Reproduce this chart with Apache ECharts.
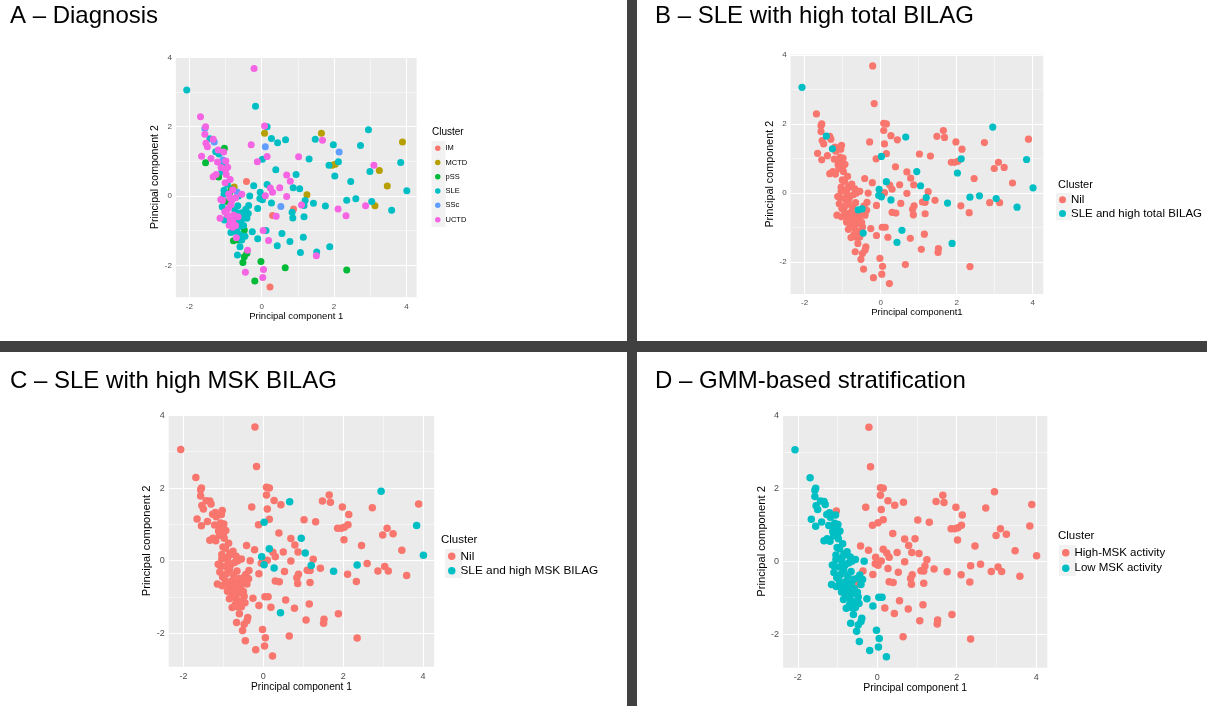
<!DOCTYPE html>
<html><head><meta charset="utf-8">
<script src="https://cdn.jsdelivr.net/npm/echarts@6/dist/echarts.min.js"></script>
<style>html,body{margin:0;padding:0;background:#fff}#c{width:1207px;height:706px}</style>
</head><body><div id="c"></div>
<script>
// ---- data (same PCA points in every panel) ----
const pc1 = [-2.07,-0.21,-0.17,-1.69,-1.55,-1.57,-1.57,-1.54,-1.50,-1.43,-1.34,-1.31,-1.66,-1.55,-1.40,-1.27,-1.18,-1.20,-1.03,-1.05,
 -1.22,-1.09,-1.07,-0.99,-0.94,-1.00,-1.34,-1.19,-1.26,-1.12,-0.87,-1.01,-0.95,-1.04,-0.76,-0.84,-0.68,-1.04,-0.91,-0.89,
 -1.08,-0.95,-0.82,-0.64,-0.72,-1.09,-0.92,-1.02,-0.74,-0.66,-0.44,-1.15,-1.03,-0.87,-0.80,-0.90,-0.67,-0.49,-0.41,-0.37,
 -0.80,-0.69,-0.60,-0.48,-0.55,-0.78,-0.65,-0.55,-0.46,-0.26,-0.60,-0.67,-0.41,-0.48,-0.52,-0.39,-0.45,-0.19,-0.02,0.05,
 0.03,0.23,0.65,-0.85,-0.78,-0.59,-0.65,-0.58,-0.72,-0.95,-0.88,-0.80,-0.98,-1.10,-0.62,-0.50,-0.70,-0.85,-1.13,-0.55,
 -0.42,-0.29,-0.22,-0.33,-0.36,-0.12,0.02,0.08,0.15,0.08,0.10,0.15,0.27,0.44,0.66,0.39,0.15,-0.04,-0.05,0.10,
 0.24,0.30,0.27,0.02,0.50,0.53,0.30,0.40,0.69,0.79,0.69,0.87,0.95,1.05,0.88,0.84,0.86,1.02,1.31,1.10,
 1.20,1.17,1.25,1.43,1.76,1.48,1.68,1.65,1.52,1.51,1.88,1.07,1.15,0.78,0.56,0.43,0.12,0.04,-0.11,0.19,
 1.86,1.95,2.03,2.12,1.98,2.14,2.02,2.46,2.73,2.95,2.35,2.60,2.33,2.11,2.35,2.99,3.10,3.25,2.87,3.04,
 3.13,3.47,3.59,3.84,3.89,4.01,-0.11,-0.52,1.17];
const pc2 = [3.06,3.68,2.59,2.29,2.00,1.95,1.78,1.52,1.42,1.65,1.64,1.56,1.15,0.96,1.08,1.28,1.21,1.33,1.38,1.27,
 0.98,0.92,1.04,1.01,0.83,0.75,0.56,0.55,0.62,0.82,0.48,0.38,0.34,0.17,0.26,0.20,0.12,0.05,0.06,0.09,
 -0.13,-0.16,-0.12,0.00,-0.05,-0.31,-0.36,-0.45,-0.40,-0.28,-0.38,-0.64,-0.69,-0.69,-0.72,-0.84,-0.69,-0.46,-0.64,-0.50,
 -0.90,-1.03,-0.88,-0.98,-1.15,-1.29,-1.27,-1.27,-1.16,-1.03,-1.46,-1.70,-1.65,-1.75,-1.92,-1.56,-2.20,-2.45,-1.89,-2.12,
 -2.35,-2.62,-2.07,-0.25,-0.55,-0.49,-0.60,-0.75,-0.85,-0.55,-0.05,0.18,0.62,0.70,-1.10,-0.85,-1.20,-1.05,-0.10,0.05,
 0.42,1.48,0.30,0.00,-0.27,0.99,1.06,2.02,2.00,1.81,1.42,1.14,1.66,1.54,1.62,0.76,0.33,0.11,-0.07,0.01,
 0.23,0.11,-0.20,-0.11,0.24,-0.30,-0.56,-0.58,0.61,0.43,-0.01,0.24,0.62,0.21,-0.37,-0.47,-0.63,1.13,1.07,-0.26,
 -0.13,-0.60,0.04,-0.21,-0.29,1.64,1.61,1.81,-1.61,-1.72,-1.46,-1.63,-1.19,-1.31,-1.08,-1.43,-0.99,-0.99,-1.23,-1.28,
 0.89,0.89,0.92,0.99,1.48,1.27,0.58,0.42,1.46,1.91,-0.12,-0.08,-0.57,-0.37,-2.13,0.71,0.89,0.74,-0.28,-0.16,
 -0.28,0.29,-0.41,0.97,1.56,0.15,-0.36,-0.64,-0.27];
const diagnosis = ['SLE','UCTD','SLE','UCTD','UCTD','SSc','UCTD','UCTD','UCTD','SLE','UCTD','SSc','UCTD','pSS','UCTD','SLE','SLE','UCTD','pSS','UCTD',
 'UCTD','SLE','SSc','UCTD','UCTD','UCTD','UCTD','pSS','UCTD','UCTD','UCTD','UCTD','SLE','SLE','MCTD','pSS','SSc','SLE','UCTD','pSS',
 'UCTD','pSS','UCTD','SLE','UCTD','SLE','UCTD','UCTD','SLE','SLE','SLE','UCTD','SLE','UCTD','UCTD','UCTD','SLE','SLE','SLE','SLE',
 'UCTD','SLE','SLE','pSS','SLE','pSS','pSS','SLE','SLE','SLE','SLE','SLE','pSS','pSS','pSS','UCTD','UCTD','pSS','pSS','UCTD',
 'UCTD','IM','pSS','UCTD','UCTD','SLE','UCTD','SLE','UCTD','UCTD','UCTD','UCTD','UCTD','SLE','SLE','SLE','UCTD','SLE','UCTD','UCTD',
 'IM','UCTD','SLE','SLE','SLE','UCTD','SLE','UCTD','SLE','MCTD','SSc','UCTD','SLE','SLE','SLE','SLE','SLE','SLE','SLE','UCTD',
 'UCTD','UCTD','SLE','SLE','UCTD','SSc','IM','UCTD','UCTD','UCTD','UCTD','SLE','SLE','SLE','IM','SLE','SLE','UCTD','SLE','UCTD',
 'SLE','SLE','MCTD','SLE','SLE','SLE','UCTD','MCTD','SLE','UCTD','SLE','SLE','SLE','SLE','SLE','SLE','SLE','UCTD','SLE','UCTD',
 'SLE','MCTD','MCTD','SLE','SLE','SSc','SLE','SLE','SLE','SLE','SLE','SLE','UCTD','UCTD','pSS','SLE','UCTD','MCTD','UCTD','SLE',
 'MCTD','MCTD','SLE','SLE','MCTD','SLE','SLE','SLE','SLE'];
const diagLevels = ['IM','MCTD','pSS','SLE','SSc','UCTD'];
// point numbers (1-based) flagged in panels B, C, D
const highTotalBilagPts = [1,10,16,58,69,86,107,115,117,118,119,123,124,133,134,141,145,151,155,156,164,167,170,171,172,180,183,184,186];
const highMskBilagPts = [107,115,117,118,123,124,133,134,141,145,156,170,171,184,186];
const lowMskGmmPts = [1,4,5,6,7,8,9,10,11,12,13,14,15,16,17,18,20,21,22,23,24,25,26,27,28,29,30,31,32,33,34,35,36,37,38,39,40,
 41,42,43,44,45,46,47,48,49,50,51,52,53,54,55,56,57,58,59,60,61,62,63,64,65,66,67,68,69,70,71,72,73,74,75,76,77,78,79,80,81,82,
 84,85,86,87,88,89,90,91,92,93,94,95,96,97,98,99,100,104,157,158,159];
const tickValues = [-2,0,2,4];
const minorValues = [-1,1,3];
const panelTitles = ['A \u2013 Diagnosis','B \u2013 SLE with high total BILAG','C \u2013 SLE with high MSK BILAG','D \u2013 GMM-based stratification'];

// ---- styling ----
const RED = '#F8766D', TEAL = '#00BFC4';
const diagColors = {IM:'#F8766D', MCTD:'#B79F00', pSS:'#00BA38', SLE:'#00BFC4', SSc:'#619CFF', UCTD:'#F564E3'};
const FONT = '"Liberation Sans", Arial, sans-serif';
const XMIN = -2.37, XMAX = 4.28, YMIN = -2.92, YMAX = 4.01;

const panels = [
  {grid:{left:175.9, top:57.0, width:240.7, height:240.3}, sym:7, tick:8, xNameFs:9.5, yNameFs:10.5, xName:'Principal component 1', xGap:13, yGap:11},
  {grid:{left:790.6, top:54.5, width:252.7, height:239.4}, sym:7.2, tick:8, xNameFs:9.5, yNameFs:10.8, xName:'Principal component1', xGap:13, yGap:12},
  {grid:{left:168.7, top:415.0, width:265.5, height:251.8}, sym:7.5, tick:9, xNameFs:10.2, yNameFs:11.2, xName:'Principal component 1', xGap:13, yGap:12},
  {grid:{left:783.1, top:415.1, width:264.2, height:252.6}, sym:7.5, tick:9, xNameFs:10.5, yNameFs:11.2, xName:'Principal component 1', xGap:13, yGap:12}
];

function pts(filterFn){
  const out = [];
  for (let i = 0; i < pc1.length; i++) if (filterFn(i)) out.push([pc1[i], pc2[i]]);
  return out;
}
const inSet = (list) => { const s = new Set(list.map(n => n - 1)); return i => s.has(i); };

const grids = [], xAxes = [], yAxes = [], series = [];
panels.forEach((p, g) => {
  grids.push(Object.assign({show:true, backgroundColor:'#EBEBEB', borderWidth:0}, p.grid));
  const axisCommon = {
    axisLine:{show:false},
    axisTick:{show:true, length:3, lineStyle:{color:'#333333', width:1}, customValues:tickValues},
    axisLabel:{customValues:tickValues, color:'#4D4D4D', fontSize:p.tick, fontFamily:FONT, margin:5},
    splitLine:{show:false},
    nameLocation:'middle'
  };
  xAxes.push(Object.assign({}, axisCommon, {type:'value', gridIndex:g, min:XMIN, max:XMAX, name:p.xName, nameGap:p.xGap,
    nameTextStyle:{color:'#000', fontSize:p.xNameFs, fontFamily:FONT}}));
  yAxes.push(Object.assign({}, axisCommon, {type:'value', gridIndex:g, min:YMIN, max:YMAX, name:'Principal component 2', nameGap:p.yGap,
    nameTextStyle:{color:'#000', fontSize:p.yNameFs, fontFamily:FONT},
    axisLabel:Object.assign({}, axisCommon.axisLabel, {margin:4})}));
  // panel grid lines (major + minor), drawn through the axes
  const ml = [];
  tickValues.forEach(v => { ml.push({xAxis:v, lineStyle:{width:1.1}}); ml.push({yAxis:v, lineStyle:{width:1.1}}); });
  minorValues.forEach(v => { ml.push({xAxis:v, lineStyle:{width:0.5}}); ml.push({yAxis:v, lineStyle:{width:0.5}}); });
  series.push({type:'line', xAxisIndex:g, yAxisIndex:g, data:[], z:1, silent:true,
    markLine:{z:1, silent:true, symbol:['none','none'], label:{show:false}, lineStyle:{color:'#FFFFFF', type:'solid'},
      emphasis:{disabled:true}, animation:false, data:ml}});
});

function scatter(g, name, color, data){
  return {type:'scatter', name, xAxisIndex:g, yAxisIndex:g, data, symbolSize:panels[g].sym, z:3,
    itemStyle:{color, opacity:1}, emphasis:{disabled:true}, animation:false};
}
// A
diagLevels.forEach(lv => series.push(scatter(0, lv, diagColors[lv], pts(i => diagnosis[i] === lv))));
// B
const isB = inSet(highTotalBilagPts);
series.push(scatter(1, 'Nil', RED, pts(i => !isB(i))));
series.push(scatter(1, 'SLE and high total BILAG', TEAL, pts(isB)));
// C
const isC = inSet(highMskBilagPts);
series.push(scatter(2, 'Nil', RED, pts(i => !isC(i))));
series.push(scatter(2, 'SLE and high MSK BILAG', TEAL, pts(isC)));
// D
const isD = inSet(lowMskGmmPts);
series.push(scatter(3, 'High-MSK activity', RED, pts(i => !isD(i))));
series.push(scatter(3, 'Low MSK activity', TEAL, pts(isD)));

function legend(data, left, top, fontSize, rowH, icon){
  return {data, orient:'vertical', left, top, icon:'circle', itemWidth:icon, itemHeight:icon, itemGap:0,
    selectedMode:false, textStyle:{fontSize, fontFamily:FONT, color:'#000', lineHeight:rowH, padding:[0,0,0,0]},
    padding:0, animation:false};
}

const titles = [
  {text:panelTitles[0], left:10, top:4},
  {text:panelTitles[1], left:655, top:4},
  {text:panelTitles[2], left:10, top:369},
  {text:panelTitles[3], left:655, top:369}
].map(t => Object.assign(t, {padding:0, textStyle:{fontSize:24, fontWeight:'normal', color:'#000', fontFamily:FONT}}));
const clusterLabels = [
  {left:432, top:127, fs:10}, {left:1058, top:179, fs:11}, {left:441, top:534, fs:11.5}, {left:1058, top:530, fs:11.5}
].map(c => ({text:'Cluster', left:c.left, top:c.top, padding:0, textStyle:{fontSize:c.fs, fontWeight:'normal', color:'#000', fontFamily:FONT}}));

const option = {
  animation:false,
  backgroundColor:'#FFFFFF',
  title: titles.concat(clusterLabels),
  grid: grids, xAxis: xAxes, yAxis: yAxes, series,
  legend: [
    legend(diagLevels, 435, 141, 7.5, 14.3, 5.5),
    legend(['Nil','SLE and high total BILAG'], 1059, 193, 11.5, 13.7, 7),
    legend(['Nil','SLE and high MSK BILAG'], 448, 549, 11.8, 14.5, 7.5),
    legend(['High-MSK activity','Low MSK activity'], 1062, 545, 11.5, 15.5, 7.5)
  ],
  graphic: [
    {type:'rect', shape:{x:431.5, y:141, width:14, height:86}, style:{fill:'#F2F2F2'}, z:-1, silent:true},
    {type:'rect', shape:{x:1056, y:193, width:16, height:27.4}, style:{fill:'#F2F2F2'}, z:-1, silent:true},
    {type:'rect', shape:{x:445, y:549, width:17, height:29}, style:{fill:'#F2F2F2'}, z:-1, silent:true},
    {type:'rect', shape:{x:1059, y:545, width:17, height:31}, style:{fill:'#F2F2F2'}, z:-1, silent:true},
    {type:'rect', shape:{x:627, y:0, width:10, height:706}, style:{fill:'#404040'}, z:10, silent:true},
    {type:'rect', shape:{x:0, y:341, width:1207, height:11}, style:{fill:'#404040'}, z:10, silent:true}
  ]
};
const chart = echarts.init(document.getElementById('c'), null, {renderer:'canvas'});
chart.setOption(option);
</script></body></html>
